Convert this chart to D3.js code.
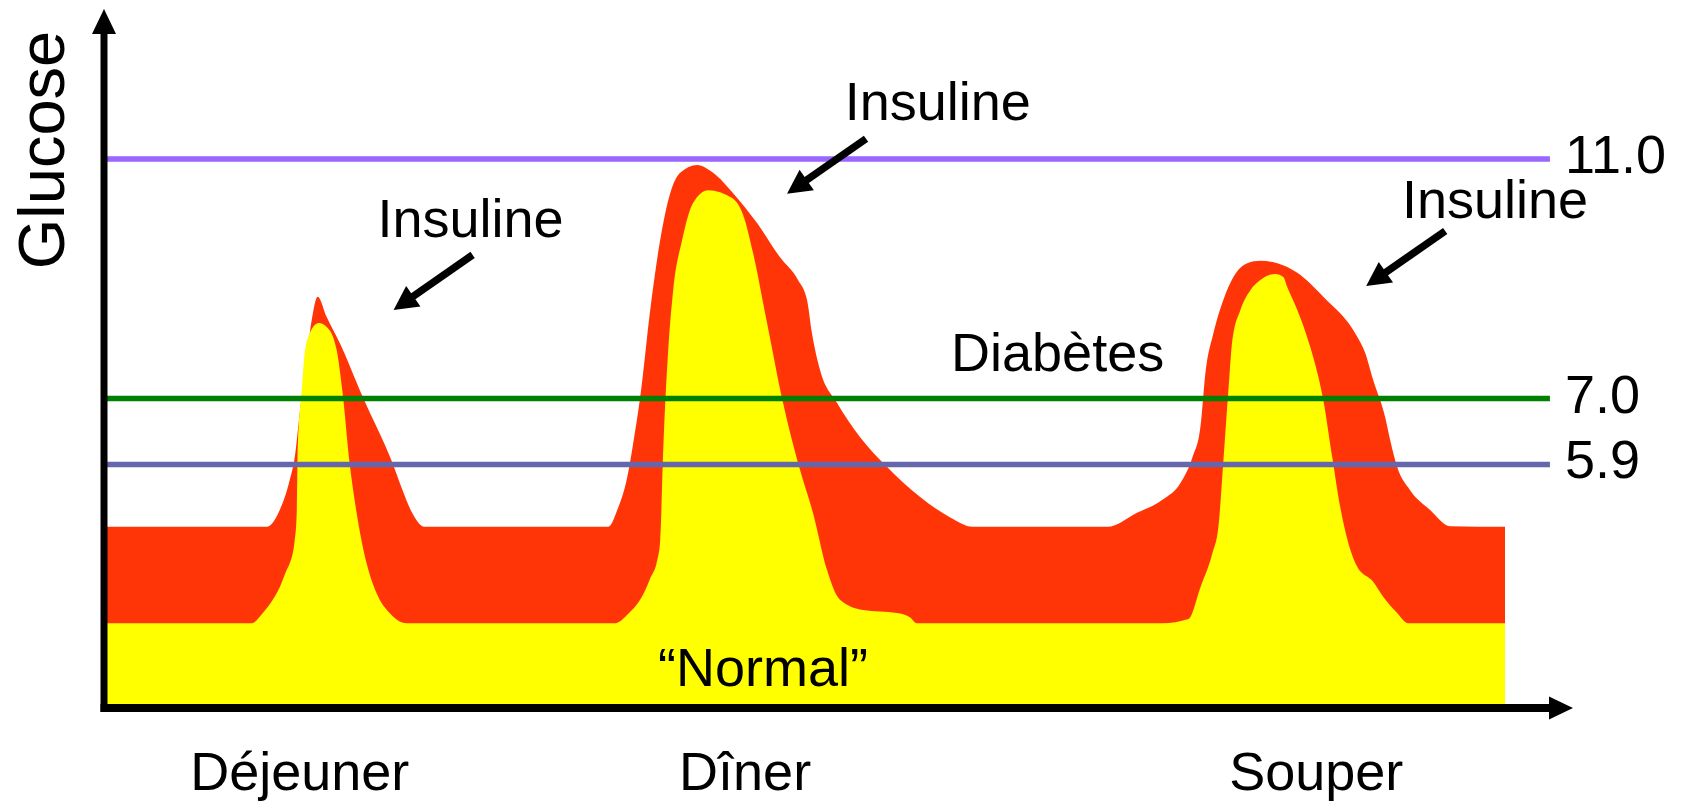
<!DOCTYPE html>
<html>
<head>
<meta charset="utf-8">
<script src="https://cdn.jsdelivr.net/npm/d3@7"></script>
<style>
  body { margin: 0; background: #fff; }
  svg text { font-family: "Liberation Sans", Arial, Helvetica, sans-serif; fill: #000; }
</style>
</head>
<body>
<svg id="chart"></svg>
<script>
// glucose over the day, [hour, mmol/L]
const diabeticCurve = [
    [6.00, 4.86], [7.60, 4.86], [7.73, 5.14], [7.83, 5.64], [7.88, 6.02], [7.93, 6.76], [8.00, 7.69],
    [8.05, 8.31], [8.11, 8.70], [8.20, 8.36], [8.33, 7.93], [8.56, 7.03], [8.86, 5.92], [8.96, 5.47],
    [9.05, 5.11], [9.18, 4.86],
    [11.02, 4.86], [11.11, 5.14], [11.21, 5.69], [11.27, 6.26], [11.34, 7.03], [11.44, 8.48], [11.54, 9.65],
    [11.64, 10.43], [11.74, 10.77], [11.91, 10.90], [12.07, 10.77], [12.27, 10.43], [12.51, 9.93],
    [12.74, 9.36], [12.92, 8.98], [13.01, 8.65], [13.06, 8.09], [13.14, 7.48], [13.31, 6.93], [13.54, 6.36],
    [13.81, 5.86], [14.14, 5.36], [14.44, 5.02], [14.67, 4.86],
    [16.02, 4.86], [16.31, 5.09], [16.57, 5.31], [16.75, 5.59], [16.87, 6.02], [16.95, 6.53], [17.00, 7.43],
    [17.08, 8.09], [17.18, 8.65], [17.28, 9.03], [17.42, 9.26], [17.55, 9.30], [17.72, 9.26], [17.92, 9.10],
    [18.18, 8.70], [18.52, 8.03], [18.60, 7.76], [18.68, 7.31], [18.80, 6.69], [18.85, 6.31], [18.92, 5.86],
    [19.05, 5.47], [19.25, 5.14], [19.45, 4.87], [20.00, 4.86]
]

const normalCurve = [
    [6.00, 3.25], [7.45, 3.25], [7.56, 3.42], [7.66, 3.64], [7.73, 3.85], [7.80, 4.14], [7.83, 4.25],
    [7.88, 4.64], [7.90, 5.09], [7.91, 6.19], [7.95, 7.14], [7.98, 7.76], [8.03, 8.09], [8.12, 8.26],
    [8.21, 8.18], [8.30, 7.81], [8.36, 7.09], [8.43, 5.92], [8.50, 5.09], [8.60, 4.25], [8.70, 3.75],
    [8.83, 3.42], [9.00, 3.25],
    [11.09, 3.25], [11.21, 3.39], [11.39, 3.80], [11.44, 4.00], [11.51, 4.30], [11.54, 4.64], [11.57, 6.14],
    [11.62, 7.81], [11.67, 8.81], [11.76, 9.65], [11.87, 10.27], [12.02, 10.48], [12.26, 10.35],
    [12.37, 10.07], [12.47, 9.43], [12.61, 8.26], [12.77, 6.93], [12.94, 5.81], [13.07, 5.09], [13.21, 4.14],
    [13.34, 3.64], [13.57, 3.47], [13.91, 3.42], [14.04, 3.35], [14.11, 3.25],
    [16.57, 3.25], [16.83, 3.32], [16.95, 3.85], [17.07, 4.42], [17.13, 4.86], [17.18, 5.97], [17.23, 7.14],
    [17.27, 7.98], [17.35, 8.48], [17.45, 8.81], [17.55, 8.98], [17.70, 9.08], [17.78, 9.03], [17.82, 8.86],
    [17.92, 8.48], [18.05, 7.86], [18.18, 6.98], [18.27, 6.02], [18.35, 5.19], [18.52, 4.19], [18.68, 3.94],
    [18.78, 3.69], [18.92, 3.42], [19.03, 3.25], [20.00, 3.25]
]

const thresholdValues = [11.0, 7.0, 5.9]
const thresholdLabels = ['11.0', '7.0', '5.9']

const meals = ['Déjeuner', 'Dîner', 'Souper']
const mealTimes = [7.93, 12.39, 18.11]

// annotations, in data units
const insulinTips = [[8.87, 8.48], [12.81, 10.42], [18.61, 8.88]]
const insulinLabelAt = [[9.64, 9.70], [14.32, 11.65], [19.90, 10.01]]
const diabetesLabelAt = [15.52, 7.46]
const normalLabelAt = [12.57, 2.20]

const config = {
    width: 1686,
    height: 805,
    timeDomain: [6, 20],
    glucoseDomain: [1.9, 11],
    xRange: [107, 1505],
    yRange: [704, 159],
    lineEnd: 20.45,
    thresholdColors: ['#9966ff', '#008000', '#6666aa'],
    red: '#ff3508',
    yellow: '#ffff00',
    fontSize: 54
}

const svg = d3.select('#chart')
    .attr('width', config.width)
    .attr('height', config.height)

const x = d3.scaleLinear().domain(config.timeDomain).range(config.xRange)
const y = d3.scaleLinear().domain(config.glucoseDomain).range(config.yRange)

const axisX = x.range()[0] - 3
const axisY = y.range()[0] + 4

// areas: diabetic (red) behind, normal (yellow) on top
const area = d3.area()
    .x(d => x(d[0]))
    .y0(y(config.glucoseDomain[0]))
    .y1(d => y(d[1]))
    .curve(d3.curveMonotoneX)

svg.append('path').datum(diabeticCurve).attr('d', area).attr('fill', config.red)
svg.append('path').datum(normalCurve).attr('d', area).attr('fill', config.yellow)

// threshold lines
svg.selectAll('.threshold')
    .data(thresholdValues)
    .join('line')
        .attr('class', 'threshold')
        .attr('x1', axisX)
        .attr('x2', x(config.lineEnd))
        .attr('y1', d => y(d))
        .attr('y2', d => y(d))
        .attr('stroke', (d, i) => config.thresholdColors[i])
        .attr('stroke-width', 5.5)

svg.selectAll('.threshold-label')
    .data(thresholdLabels)
    .join('text')
        .attr('class', 'threshold-label')
        .attr('x', x(config.lineEnd) + 15)
        .attr('y', (d, i) => y(thresholdValues[i]) + 14)
        .attr('font-size', config.fontSize)
        .text(d => d)

// insulin arrows
const dir = [79, -55]
const len = Math.hypot(dir[0], dir[1])
const u = [dir[0] / len, dir[1] / len]
const perp = [-u[1], u[0]]
const headLen = 24, headHalf = 12.5

const arrows = svg.selectAll('.insulin')
    .data(insulinTips)
    .join('g')
        .attr('class', 'insulin')

arrows.append('line')
    .attr('x1', d => x(d[0]) + dir[0])
    .attr('y1', d => y(d[1]) + dir[1])
    .attr('x2', d => x(d[0]) + u[0] * headLen * 0.8)
    .attr('y2', d => y(d[1]) + u[1] * headLen * 0.8)
    .attr('stroke', '#000')
    .attr('stroke-width', 7.5)

arrows.append('path')
    .attr('d', d => {
        const tx = x(d[0]), ty = y(d[1])
        const bx = tx + u[0] * headLen, by = ty + u[1] * headLen
        return `M${tx},${ty}L${bx + perp[0] * headHalf},${by + perp[1] * headHalf}` +
            `L${bx - perp[0] * headHalf},${by - perp[1] * headHalf}Z`
    })
    .attr('fill', '#000')

svg.selectAll('.insulin-label')
    .data(insulinLabelAt)
    .join('text')
        .attr('class', 'insulin-label')
        .attr('x', d => x(d[0]))
        .attr('y', d => y(d[1]))
        .attr('text-anchor', 'middle')
        .attr('font-size', config.fontSize)
        .text('Insuline')

svg.append('text')
    .attr('x', x(diabetesLabelAt[0]))
    .attr('y', y(diabetesLabelAt[1]))
    .attr('text-anchor', 'middle')
    .attr('font-size', config.fontSize)
    .text('Diabètes')

svg.append('text')
    .attr('x', x(normalLabelAt[0]))
    .attr('y', y(normalLabelAt[1]))
    .attr('text-anchor', 'middle')
    .attr('font-size', config.fontSize)
    .text('\u201CNormal\u201D')

// axes with arrow heads
svg.append('line')
    .attr('x1', axisX).attr('x2', axisX)
    .attr('y1', axisY + 4).attr('y2', 30)
    .attr('stroke', '#000').attr('stroke-width', 7)
svg.append('path')
    .attr('d', `M${axisX},9L${axisX - 12},34L${axisX + 12},34Z`)
    .attr('fill', '#000')

svg.append('line')
    .attr('x1', axisX - 3.5).attr('x2', 1552)
    .attr('y1', axisY).attr('y2', axisY)
    .attr('stroke', '#000').attr('stroke-width', 8)
svg.append('path')
    .attr('d', `M1573,${axisY}L1549,${axisY - 11.5}L1549,${axisY + 11.5}Z`)
    .attr('fill', '#000')

svg.append('text')
    .attr('transform', 'translate(64,150) rotate(-90)')
    .attr('text-anchor', 'middle')
    .attr('font-size', 65)
    .text('Glucose')

svg.selectAll('.meal')
    .data(meals)
    .join('text')
        .attr('class', 'meal')
        .attr('x', (d, i) => x(mealTimes[i]))
        .attr('y', axisY + 82)
        .attr('text-anchor', 'middle')
        .attr('font-size', config.fontSize)
        .text(d => d)
</script>
</body>
</html>
